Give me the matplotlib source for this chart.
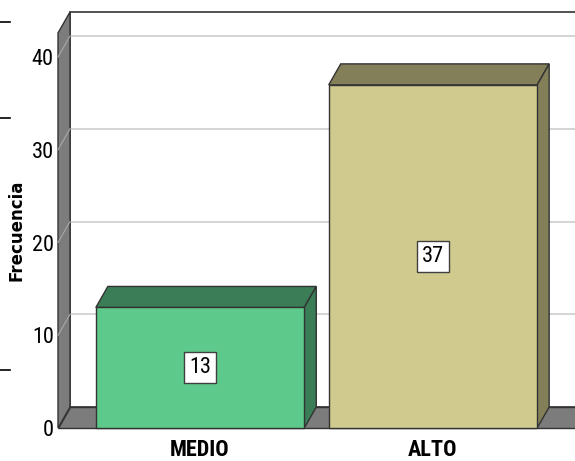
import numpy as np
import matplotlib
matplotlib.use("Agg")
from matplotlib import pyplot as plt
from matplotlib.patches import Polygon, Rectangle
from matplotlib.lines import Line2D

# frequency table
categories = ['MEDIO', 'ALTO']
frecuencia = [13, 37]
y_ticks = [0, 10, 20, 30, 40]

FRONT_COLORS = ['#5dca8b', '#d0ca8e']
SHADE_COLORS = ['#3a7d56', '#837f58']
WALL = '#7c7c7c'
EDGE = '#333333'
GRID = '#d4d4d4'

NARROW = ['Roboto Condensed', 'Archivo Narrow', 'DejaVu Sans']

W, H = 575, 461
fig = plt.figure(figsize=(W / 100, H / 100), dpi=100)
ax = fig.add_axes([58 / W, (H - 428) / H, (W - 58) / W, (428 - 12) / H])

XMIN, XMAX = -0.61, 1.61
YMAX = 44.86
ax.set_xlim(XMIN, XMAX)
ax.set_ylim(0, YMAX)

# depth of the 3d box in data units (12 px right, 21 px up)
DX = 12 / ((W - 58) / (XMAX - XMIN))
DY = 21 / ((428 - 12) / YMAX)
YTOP = YMAX - DY
bar_w = 0.895

# back wall
ax.add_patch(Rectangle((XMIN + DX, DY), XMAX + 0.5 - XMIN, YTOP, facecolor='white',
                       edgecolor=EDGE, lw=1.2, zorder=1, clip_on=False))
for v in y_ticks[1:]:
    ax.add_line(Line2D([XMIN + DX, XMAX + 0.5], [v + DY, v + DY], color=GRID, lw=1.4,
                       zorder=2, clip_on=False))

# left wall and floor
ax.add_patch(Polygon([(XMIN, 0), (XMIN + DX, DY), (XMIN + DX, YTOP + DY), (XMIN, YTOP)],
                     closed=True, facecolor=WALL, edgecolor=EDGE, lw=1.0, zorder=3, clip_on=False))
for v in y_ticks[1:]:
    ax.add_line(Line2D([XMIN, XMIN + DX], [v, v + DY], color='#a8a8a8', lw=0.8,
                       zorder=4, clip_on=False))
ax.add_patch(Polygon([(XMIN, 0), (XMAX + 0.5, 0), (XMAX + 0.5, DY), (XMIN + DX, DY)],
                     closed=True, facecolor=WALL, edgecolor=EDGE, lw=1.0, zorder=3, clip_on=False))

# bars
for i, (cat, val) in enumerate(zip(categories, frecuencia)):
    x0, x1 = i - bar_w / 2, i + bar_w / 2
    ax.add_patch(Rectangle((x0, 0), bar_w, val, facecolor=FRONT_COLORS[i],
                           edgecolor=EDGE, lw=1.0, zorder=6, clip_on=False))
    ax.add_patch(Polygon([(x0, val), (x0 + DX, val + DY), (x1 + DX, val + DY), (x1, val)],
                         closed=True, facecolor=SHADE_COLORS[i], edgecolor=EDGE, lw=1.0,
                         zorder=5, clip_on=False))
    ax.add_patch(Polygon([(x1, 0), (x1 + DX, DY), (x1 + DX, val + DY), (x1, val)],
                         closed=True, facecolor=SHADE_COLORS[i], edgecolor=EDGE, lw=1.0,
                         zorder=5, clip_on=False))
    ax.text(i, val / 2, str(val), ha='center', va='center', fontsize=16, family=NARROW,
            zorder=8, bbox=dict(boxstyle='square,pad=0.22', facecolor='white',
                                edgecolor='#404040', lw=1.0))

for s in ax.spines.values():
    s.set_visible(False)
ax.set_yticks(y_ticks)
ax.set_yticklabels([str(t) for t in y_ticks], fontsize=16, family=NARROW)
ax.set_xticks(range(len(categories)))
ax.set_xticklabels(categories, fontsize=16, family=NARROW, fontweight='bold')
ax.tick_params(axis='both', length=0)
ax.tick_params(axis='y', pad=3)
ax.tick_params(axis='x', pad=8)
ax.set_ylabel('Frecuencia', fontsize=12, family='DejaVu Sans', fontweight='bold')
ax.yaxis.set_label_coords(-0.062, 0.475)

# short marks along the left border
for yp in [22, 118, 370]:
    fig.add_artist(Line2D([0, 10 / W], [1 - yp / H] * 2, color='black', lw=1.2))

fig.savefig('out.png', dpi=100)
